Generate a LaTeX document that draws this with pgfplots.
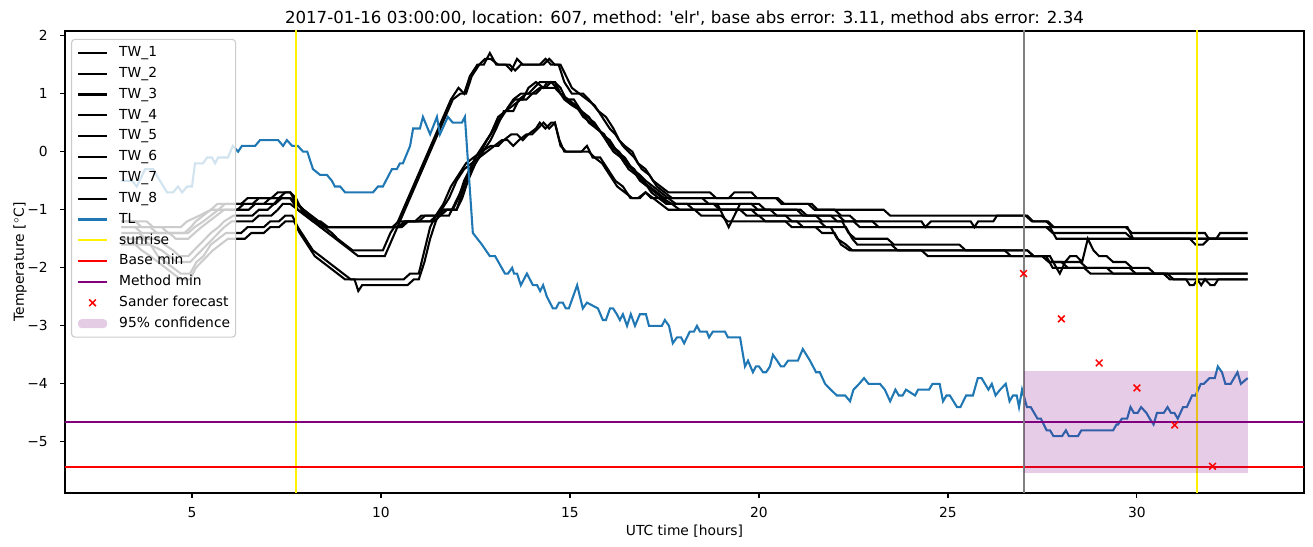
\documentclass[border=0pt]{standalone}
\usepackage{pgfplots}
\pgfplotsset{compat=1.18}
\usepackage{fontspec}
\setmainfont{DejaVu Sans}
\definecolor{tabblue}{HTML}{1F77B4}
\definecolor{mplpurple}{HTML}{800080}
\definecolor{mplgray}{HTML}{808080}
\definecolor{legframe}{HTML}{CCCCCC}
\pgfplotsset{areaimg/.style={legend image code/.code={\fill[##1] (0pt,-3.2pt) rectangle (21pt,3.2pt);}}}
\begin{document}
\begin{tikzpicture}
\begin{axis}[
  name=ax,
  scale only axis,
  width=12.39in, height=4.62in,
  xmin=1.64, xmax=34.42, ymin=-5.88, ymax=2.08,
  xtick={5,10,15,20,25,30}, xticklabels={5,10,15,20,25,30},
  ytick={-5,-4,-3,-2,-1,0,1,2}, yticklabels={−5,−4,−3,−2,−1,0,1,2},
  tick pos=left, tick align=outside, major tick length=3.5pt,
  every tick/.style={black, line width=0.8pt},
  axis line style={line width=0.8pt},
  tick label style={font=\fontsize{10}{12}\selectfont},
  xticklabel style={yshift=-3.5pt},
  yticklabel style={xshift=-5.5pt},
  label style={font=\fontsize{10}{12}\selectfont},
  title={2017-01-16 03:00:00, location: 607, method: \textquotesingle elr\textquotesingle, base abs error: 3.11, method abs error: 2.34},
  title style={at={(axis description cs:0.5,1)}, anchor=base, yshift=-0.8pt, font=\fontsize{12}{14}\selectfont},
  xlabel={UTC time [hours]},
  xlabel style={at={(axis description cs:0.5,-0.0866)}, anchor=base, yshift=-2pt},
  ylabel={Temperature [$^\circ$C]},
  ylabel style={at={(axis description cs:-0.0331,0.5)}, anchor=base},
  legend image code/.code={\draw[line width=1.5pt,mark repeat=2,mark phase=2,#1] plot coordinates {(0pt,0pt) (10.5pt,0pt) (21pt,0pt)};},
  legend cell align=left,
  legend style={at={(0.0048,0.983)}, anchor=north west, draw=legframe, line width=0.8pt,
    rounded corners=2.5pt, fill=white, fill opacity=0.8, draw opacity=1, text opacity=1,
    inner xsep=4pt, inner ysep=4pt, row sep=3.55pt, column sep=8pt,
    font=\fontsize{10}{12}\selectfont,
    nodes={inner sep=0pt, text height=8.5pt, text depth=3pt}},
  clip=true,
]
% TW_1
\addplot[black, line width=1.5pt] coordinates {(3.13,-1.2) (3.5,-1.2) (3.67,-1.3) (4.7,-1.3) (4.87,-1.2) (5.2,-1.1) (5.5,-1.0) (5.67,-0.9) (6.3,-0.9) (6.47,-0.8) (7.1,-0.8) (7.27,-0.7) (7.6,-0.7) (7.77,-0.9) (7.95,-1.0) (8.12,-1.1) (8.3,-1.2) (8.5,-1.3) (8.7,-1.4) (8.85,-1.5) (9.05,-1.6) (9.25,-1.7) (10.05,-1.7) (10.25,-1.4) (10.45,-1.2) (10.65,-0.9) (10.85,-0.6) (11.05,-0.3) (11.25,0.0) (11.45,0.3) (11.65,0.6) (11.85,0.9) (12.05,1.1) (12.2,1.0) (12.35,1.3) (12.55,1.5) (12.72,1.5) (12.88,1.7) (13.05,1.5) (13.3,1.5) (13.45,1.4) (13.6,1.6) (13.75,1.5) (14.3,1.5) (14.45,1.6) (14.6,1.5) (14.7,1.5) (14.85,1.2) (15.05,1.0) (15.35,1.0) (15.5,0.9) (15.75,0.7) (15.95,0.6) (16.15,0.4) (16.3,0.2) (16.45,0.1) (16.65,0.0) (16.8,-0.2) (17.0,-0.3) (17.2,-0.5) (17.4,-0.6) (17.6,-0.7) (18.7,-0.7) (18.87,-0.8) (20.45,-0.8) (20.6,-0.9) (21.4,-0.9) (21.55,-1.0) (23.3,-1.0) (23.47,-1.1) (27.05,-1.1) (27.22,-1.2) (27.6,-1.2) (27.77,-1.3) (29.7,-1.3) (29.87,-1.4) (31.8,-1.4) (31.9,-1.5) (32.1,-1.5) (32.2,-1.4) (32.93,-1.4)};
\addlegendentry{TW\_1}
% TW_2
\addplot[black, line width=1.5pt] coordinates {(3.13,-1.2) (3.8,-1.2) (3.97,-1.3) (4.2,-1.3) (4.37,-1.4) (4.9,-1.4) (5.07,-1.3) (5.3,-1.2) (5.5,-1.1) (5.7,-1.0) (5.87,-0.9) (6.6,-0.9) (6.77,-0.8) (7.3,-0.8) (7.47,-0.7) (7.6,-0.7) (7.75,-0.8) (7.9,-1.0) (8.05,-1.1) (8.25,-1.2) (8.4,-1.3) (8.6,-1.4) (8.8,-1.5) (9.0,-1.6) (9.2,-1.7) (9.4,-1.8) (10.1,-1.8) (10.3,-1.5) (10.5,-1.2) (10.7,-0.9) (10.9,-0.6) (11.1,-0.3) (11.3,0.0) (11.5,0.3) (11.7,0.6) (11.9,0.9) (12.1,1.0) (12.25,1.0) (12.4,1.3) (12.6,1.5) (12.75,1.6) (12.9,1.6) (13.1,1.5) (13.4,1.5) (13.55,1.4) (13.7,1.5) (14.2,1.5) (14.35,1.6) (14.5,1.5) (14.75,1.5) (14.9,1.3) (15.05,1.1) (15.25,1.0) (15.45,0.9) (15.65,0.8) (15.85,0.6) (16.05,0.4) (16.2,0.3) (16.4,0.1) (16.55,0.0) (16.7,-0.1) (16.9,-0.3) (17.1,-0.4) (17.3,-0.6) (17.5,-0.7) (17.7,-0.8) (19.2,-0.8) (19.35,-0.7) (19.8,-0.7) (19.95,-0.8) (20.5,-0.8) (20.67,-0.9) (21.3,-0.9) (21.47,-1.0) (22.0,-1.0) (22.17,-1.1) (22.4,-1.1) (22.57,-1.2) (24.3,-1.2) (24.4,-1.3) (24.55,-1.2) (25.6,-1.2) (25.7,-1.3) (25.8,-1.2) (26.2,-1.2) (26.3,-1.1) (27.1,-1.1) (27.25,-1.2) (27.65,-1.2) (27.8,-1.3) (29.75,-1.3) (29.9,-1.5) (32.93,-1.5)};
\addlegendentry{TW\_2}
% TW_3
\addplot[black, line width=1.5pt] coordinates {(3.13,-1.3) (3.5,-1.3) (3.67,-1.4) (4.8,-1.4) (4.97,-1.3) (5.1,-1.2) (5.3,-1.1) (5.5,-1.0) (6.2,-1.0) (6.37,-0.9) (6.9,-0.9) (7.07,-0.8) (7.6,-0.8) (7.75,-0.9) (7.95,-1.0) (8.15,-1.1) (8.35,-1.2) (8.55,-1.3) (10.45,-1.3) (10.62,-1.2) (11.3,-1.2) (11.47,-1.1) (11.6,-1.0) (11.9,-1.0) (12.05,-0.8) (12.2,-0.5) (12.35,-0.3) (12.5,-0.1) (12.7,0.1) (12.9,0.3) (13.1,0.6) (13.3,0.7) (13.5,0.9) (13.7,1.0) (13.9,1.0) (14.05,1.1) (14.2,1.2) (14.6,1.2) (14.75,1.0) (14.95,0.9) (15.15,0.8) (15.35,0.6) (15.55,0.5) (15.75,0.4) (15.95,0.2) (16.15,0.0) (16.35,-0.1) (16.55,-0.3) (16.75,-0.4) (16.95,-0.5) (17.15,-0.7) (17.35,-0.8) (17.55,-0.9) (18.8,-0.9) (18.97,-1.0) (21.1,-1.0) (21.27,-1.1) (22.1,-1.1) (22.27,-1.2) (23.0,-1.2) (23.17,-1.3) (27.6,-1.3) (27.77,-1.4) (29.7,-1.4) (29.87,-1.5) (32.93,-1.5)};
\addlegendentry{TW\_3}
% TW_4
\addplot[black, line width=1.5pt] coordinates {(3.13,-1.3) (3.9,-1.3) (4.07,-1.4) (4.4,-1.4) (4.57,-1.5) (4.9,-1.5) (5.07,-1.4) (5.25,-1.3) (5.45,-1.2) (5.65,-1.1) (5.85,-1.0) (6.5,-1.0) (6.67,-0.9) (7.2,-0.9) (7.37,-0.8) (7.6,-0.8) (7.8,-1.0) (8.0,-1.1) (8.2,-1.2) (8.4,-1.2) (8.6,-1.3) (10.3,-1.3) (10.47,-1.2) (10.9,-1.2) (11.07,-1.1) (11.5,-1.1) (11.67,-1.0) (12.0,-1.0) (12.15,-0.7) (12.3,-0.4) (12.5,-0.2) (12.7,0.0) (12.9,0.2) (13.05,0.4) (13.25,0.7) (13.5,0.7) (13.65,0.9) (13.85,1.0) (14.1,1.0) (14.25,1.1) (14.6,1.1) (14.75,1.0) (14.95,0.9) (15.1,0.9) (15.3,0.7) (15.5,0.6) (15.7,0.4) (15.9,0.3) (16.1,0.1) (16.3,0.0) (16.5,-0.2) (16.7,-0.3) (16.9,-0.5) (17.1,-0.6) (17.3,-0.7) (17.5,-0.8) (18.5,-0.8) (18.67,-0.9) (19.8,-0.9) (19.97,-1.0) (20.3,-1.0) (20.47,-1.1) (21.9,-1.1) (22.07,-1.2) (22.5,-1.2) (22.67,-1.3) (27.7,-1.3) (27.87,-1.5) (31.4,-1.5) (31.55,-1.6) (31.75,-1.6) (31.9,-1.5) (32.93,-1.5)};
\addlegendentry{TW\_4}
% TW_5
\addplot[black, line width=1.5pt] coordinates {(3.13,-1.4) (3.6,-1.4) (3.77,-1.5) (4.1,-1.5) (4.27,-1.6) (4.5,-1.7) (4.67,-1.8) (4.9,-1.8) (5.05,-1.7) (5.2,-1.6) (5.35,-1.5) (5.5,-1.4) (5.7,-1.3) (5.85,-1.2) (6.1,-1.1) (6.6,-1.1) (6.77,-1.0) (7.0,-1.0) (7.17,-0.9) (7.3,-0.8) (7.6,-0.8) (7.8,-0.9) (7.95,-1.0) (8.15,-1.1) (8.35,-1.2) (8.55,-1.3) (10.5,-1.3) (10.67,-1.2) (11.4,-1.2) (11.57,-1.1) (11.75,-1.0) (12.0,-1.0) (12.15,-0.8) (12.3,-0.5) (12.5,-0.2) (12.65,0.0) (12.8,0.2) (13.0,0.4) (13.2,0.6) (13.4,0.8) (13.55,0.9) (13.75,0.9) (13.9,1.1) (14.1,1.2) (14.3,1.1) (14.4,1.2) (14.6,1.2) (14.75,1.1) (14.9,0.9) (15.1,0.8) (15.3,0.7) (15.5,0.5) (15.7,0.4) (15.9,0.3) (16.05,0.1) (16.25,0.0) (16.45,-0.1) (16.65,-0.3) (16.85,-0.4) (17.0,-0.5) (17.2,-0.6) (17.4,-0.7) (17.6,-0.8) (17.8,-0.9) (18.9,-0.9) (19.05,-1.1) (19.2,-1.3) (19.35,-1.1) (19.5,-0.9) (20.0,-0.9) (20.17,-1.0) (21.0,-1.0) (21.17,-1.1) (21.5,-1.1) (21.67,-1.2) (22.2,-1.2) (22.37,-1.4) (22.55,-1.5) (23.4,-1.5) (23.57,-1.6) (25.3,-1.6) (25.47,-1.7) (27.1,-1.7) (27.27,-1.8) (27.7,-1.8) (27.87,-2.0) (27.96,-2.1) (28.1,-1.9) (28.23,-1.8) (28.4,-1.8) (28.55,-1.9) (28.7,-1.5) (28.85,-1.7) (29.0,-1.8) (29.2,-1.8) (29.37,-1.9) (29.7,-1.9) (29.87,-2.0) (30.3,-2.0) (30.47,-2.1) (32.93,-2.1)};
\addlegendentry{TW\_5}
% TW_6
\addplot[black, line width=1.5pt] coordinates {(3.13,-1.5) (3.7,-1.5) (3.87,-1.6) (4.2,-1.7) (4.4,-1.8) (4.6,-1.9) (4.95,-1.9) (5.1,-1.8) (5.25,-1.7) (5.4,-1.6) (5.55,-1.5) (5.7,-1.4) (5.85,-1.3) (6.05,-1.2) (6.6,-1.2) (6.77,-1.1) (7.1,-1.1) (7.27,-1.0) (7.4,-0.9) (7.6,-0.9) (7.8,-1.0) (8.0,-1.1) (8.2,-1.2) (8.4,-1.3) (10.55,-1.3) (10.72,-1.2) (11.0,-1.2) (11.17,-1.1) (11.8,-1.1) (11.95,-0.9) (12.1,-0.7) (12.3,-0.4) (12.5,-0.1) (12.7,0.1) (12.9,0.3) (13.05,0.5) (13.3,0.7) (13.5,0.8) (13.7,0.9) (13.85,0.9) (14.0,1.0) (14.2,1.1) (14.35,1.1) (14.5,1.2) (14.65,1.1) (14.85,0.9) (15.05,0.8) (15.3,0.7) (15.45,0.6) (15.65,0.5) (15.85,0.3) (16.05,0.2) (16.25,0.0) (16.45,-0.2) (16.65,-0.3) (16.85,-0.5) (17.05,-0.6) (17.25,-0.7) (17.45,-0.8) (17.7,-0.9) (17.9,-1.0) (19.8,-1.0) (19.97,-1.1) (20.7,-1.1) (20.87,-1.2) (21.6,-1.2) (21.77,-1.3) (22.3,-1.3) (22.47,-1.5) (22.6,-1.6) (23.5,-1.6) (23.67,-1.7) (27.1,-1.7) (27.27,-1.8) (27.5,-1.8) (27.67,-1.9) (28.5,-1.9) (28.67,-2.0) (29.8,-2.0) (29.97,-2.1) (32.93,-2.1)};
\addlegendentry{TW\_6}
% TW_7
\addplot[black, line width=1.5pt] coordinates {(3.13,-1.5) (3.4,-1.5) (3.57,-1.6) (3.9,-1.6) (4.1,-1.8) (4.3,-1.9) (4.5,-2.0) (4.7,-2.1) (4.95,-2.1) (5.12,-1.9) (5.3,-1.8) (5.5,-1.6) (5.7,-1.5) (5.9,-1.4) (6.3,-1.4) (6.47,-1.3) (6.9,-1.3) (7.07,-1.2) (7.3,-1.2) (7.47,-1.1) (7.65,-1.1) (7.8,-1.3) (8.0,-1.5) (8.2,-1.7) (8.4,-1.8) (8.6,-1.9) (8.8,-2.0) (9.0,-2.1) (9.2,-2.2) (10.6,-2.2) (10.77,-2.1) (11.0,-2.1) (11.15,-1.7) (11.3,-1.3) (11.45,-1.1) (11.65,-0.9) (11.85,-0.6) (12.05,-0.4) (12.25,-0.2) (12.45,-0.1) (12.65,0.0) (12.9,0.1) (13.1,0.1) (13.25,0.2) (13.45,0.3) (13.6,0.3) (13.75,0.2) (13.9,0.3) (14.1,0.4) (14.2,0.5) (14.35,0.4) (14.5,0.5) (14.6,0.5) (14.75,0.1) (14.9,0.0) (15.5,0.0) (15.65,-0.1) (15.85,-0.2) (16.05,-0.4) (16.25,-0.6) (16.45,-0.7) (16.65,-0.8) (16.85,-0.8) (17.0,-0.7) (17.15,-0.8) (17.4,-0.8) (17.6,-0.9) (18.1,-0.9) (18.27,-1.0) (19.5,-1.0) (19.67,-1.1) (20.0,-1.1) (20.17,-1.2) (21.0,-1.2) (21.17,-1.3) (21.9,-1.3) (22.07,-1.5) (22.3,-1.6) (22.47,-1.7) (26.5,-1.7) (26.67,-1.8) (27.6,-1.8) (27.77,-2.0) (28.6,-2.0) (28.77,-2.1) (30.7,-2.1) (30.87,-2.2) (32.93,-2.2)};
\addlegendentry{TW\_7}
% TW_8
\addplot[black, line width=1.5pt] coordinates {(3.13,-1.6) (3.5,-1.6) (3.67,-1.7) (3.9,-1.8) (4.1,-1.9) (4.3,-2.0) (4.5,-2.1) (4.7,-2.2) (4.95,-2.2) (5.1,-2.0) (5.25,-1.9) (5.4,-1.8) (5.55,-1.7) (5.75,-1.6) (5.95,-1.5) (6.4,-1.5) (6.57,-1.4) (6.9,-1.4) (7.07,-1.3) (7.3,-1.3) (7.47,-1.2) (7.7,-1.2) (7.85,-1.4) (8.05,-1.6) (8.25,-1.8) (8.45,-1.9) (8.65,-2.0) (8.85,-2.1) (9.05,-2.2) (9.3,-2.2) (9.4,-2.4) (9.5,-2.3) (10.7,-2.3) (10.87,-2.2) (11.0,-2.2) (11.15,-1.9) (11.3,-1.5) (11.45,-1.2) (11.6,-1.0) (11.8,-0.8) (12.0,-0.5) (12.2,-0.3) (12.4,-0.2) (12.6,-0.1) (12.8,0.0) (13.0,0.1) (13.2,0.2) (13.35,0.2) (13.5,0.1) (13.65,0.2) (13.85,0.3) (14.0,0.3) (14.15,0.4) (14.3,0.5) (14.45,0.4) (14.6,0.5) (14.72,0.2) (14.85,0.0) (15.3,0.0) (15.45,0.1) (15.6,-0.1) (15.8,-0.1) (16.0,-0.3) (16.2,-0.5) (16.4,-0.6) (16.6,-0.8) (16.8,-0.8) (17.0,-0.7) (17.2,-0.8) (17.4,-0.9) (17.6,-1.0) (18.3,-1.0) (18.47,-1.1) (19.0,-1.1) (19.17,-1.2) (20.7,-1.2) (20.87,-1.3) (21.5,-1.3) (21.67,-1.4) (22.0,-1.4) (22.17,-1.6) (22.4,-1.7) (24.3,-1.7) (24.47,-1.8) (27.5,-1.8) (27.67,-1.9) (28.0,-1.9) (28.17,-2.0) (29.2,-2.0) (29.37,-2.1) (30.8,-2.1) (30.97,-2.2) (31.3,-2.2) (31.4,-2.3) (31.5,-2.3) (31.6,-2.2) (31.7,-2.3) (31.8,-2.2) (31.95,-2.3) (32.05,-2.3) (32.15,-2.2) (32.93,-2.2)};
\addlegendentry{TW\_8}
% TL
\addplot[tabblue, line width=1.5pt] coordinates {(3.13,-0.5) (3.41,-0.5) (3.54,-0.6) (3.76,-0.3) (3.97,-0.3) (4.15,-0.5) (4.34,-0.7) (4.50,-0.7) (4.63,-0.6) (4.74,-0.7) (4.87,-0.6) (5.00,-0.6) (5.08,-0.2) (5.29,-0.2) (5.40,-0.1) (5.53,-0.1) (5.61,-0.2) (5.69,-0.1) (5.95,-0.1) (6.08,0.1) (6.22,0.0) (6.32,0.1) (6.67,0.1) (6.80,0.2) (7.28,0.2) (7.41,0.1) (7.51,0.2) (7.65,0.1) (7.80,0.1) (7.94,0.0) (8.05,0.0) (8.20,-0.3) (8.39,-0.4) (8.57,-0.4) (8.70,-0.5) (8.78,-0.6) (8.92,-0.6) (9.05,-0.7) (9.79,-0.7) (9.92,-0.6) (10.05,-0.6) (10.29,-0.3) (10.42,-0.3) (10.50,-0.2) (10.58,-0.2) (10.77,0.1) (10.85,0.4) (11.03,0.4) (11.11,0.6) (11.30,0.3) (11.48,0.6) (11.56,0.3) (11.77,0.6) (11.90,0.5) (12.14,0.5) (12.22,0.6) (12.43,-1.4) (12.67,-1.6) (12.88,-1.8) (13.02,-1.8) (13.28,-2.1) (13.36,-2.1) (13.47,-2.0) (13.52,-2.1) (13.60,-2.1) (13.70,-2.3) (13.86,-2.1) (14.02,-2.3) (14.13,-2.3) (14.21,-2.4) (14.29,-2.3) (14.39,-2.5) (14.55,-2.7) (14.63,-2.7) (14.71,-2.6) (14.81,-2.6) (14.89,-2.7) (14.97,-2.7) (15.08,-2.5) (15.19,-2.3) (15.34,-2.7) (15.45,-2.6) (15.74,-2.7) (15.87,-2.9) (15.95,-2.9) (16.06,-2.7) (16.14,-2.7) (16.24,-2.8) (16.32,-2.9) (16.40,-2.8) (16.51,-3.0) (16.61,-2.8) (16.72,-3.0) (16.85,-2.8) (17.01,-2.8) (17.09,-3.0) (17.43,-3.0) (17.51,-2.9) (17.62,-3.0) (17.72,-3.3) (17.83,-3.2) (17.94,-3.2) (18.02,-3.3) (18.17,-3.1) (18.28,-3.1) (18.36,-3.0) (18.44,-3.1) (18.62,-3.1) (18.68,-3.2) (18.78,-3.1) (19.10,-3.1) (19.18,-3.2) (19.50,-3.2) (19.63,-3.7) (19.71,-3.6) (19.84,-3.8) (19.92,-3.7) (20.00,-3.7) (20.11,-3.8) (20.19,-3.8) (20.29,-3.7) (20.37,-3.5) (20.48,-3.6) (20.58,-3.7) (20.66,-3.7) (20.77,-3.6) (21.03,-3.6) (21.16,-3.4) (21.35,-3.6) (21.51,-3.8) (21.61,-3.8) (21.75,-4.0) (21.90,-4.1) (22.06,-4.2) (22.28,-4.2) (22.41,-4.3) (22.50,-4.1) (22.65,-4.0) (22.78,-3.9) (22.90,-4.0) (23.20,-4.0) (23.33,-4.1) (23.47,-4.3) (23.61,-4.1) (23.70,-4.2) (23.80,-4.2) (23.89,-4.1) (24.13,-4.2) (24.21,-4.1) (24.50,-4.1) (24.59,-4.0) (24.78,-4.0) (24.87,-4.3) (24.96,-4.2) (25.05,-4.2) (25.24,-4.4) (25.33,-4.4) (25.48,-4.2) (25.66,-4.2) (25.79,-3.9) (25.89,-3.9) (26.07,-4.1) (26.16,-4.0) (26.26,-4.2) (26.38,-4.1) (26.53,-4.0) (26.63,-4.3) (26.72,-4.2) (26.82,-4.2) (26.88,-4.4) (26.96,-4.1) (27.09,-4.4) (27.19,-4.4) (27.37,-4.6) (27.46,-4.6) (27.61,-4.8) (27.70,-4.8) (27.79,-4.9) (28.02,-4.9) (28.12,-4.8) (28.20,-4.9) (28.44,-4.9) (28.53,-4.8) (29.37,-4.8) (29.46,-4.7) (29.50,-4.7) (29.60,-4.6) (29.74,-4.6) (29.83,-4.4) (29.92,-4.5) (30.02,-4.5) (30.11,-4.4) (30.25,-4.5) (30.34,-4.6) (30.44,-4.7) (30.53,-4.5) (30.71,-4.5) (30.81,-4.4) (30.90,-4.5) (30.99,-4.5) (31.08,-4.6) (31.22,-4.4) (31.32,-4.4) (31.46,-4.2) (31.55,-4.2) (31.69,-4.0) (31.77,-4.0) (31.92,-3.9) (32.06,-3.9) (32.14,-3.7) (32.25,-3.8) (32.34,-4.0) (32.48,-4.0) (32.66,-3.8) (32.75,-4.0) (32.93,-3.9)};
\addlegendentry{TL}
% sunrise
\addplot[yellow, line width=1.5pt] coordinates {(7.75,-10) (7.75,10)};
\addlegendentry{sunrise}
\addplot[yellow, line width=1.5pt, forget plot] coordinates {(31.6,-10) (31.6,10)};
% base min
\addplot[red, line width=1.5pt] coordinates {(0,-5.425) (40,-5.425)};
\addlegendentry{Base min}
% method min
\addplot[mplpurple, line width=1.5pt] coordinates {(0,-4.65) (40,-4.65)};
\addlegendentry{Method min}
% current time
\addplot[mplgray, line width=1.5pt, forget plot] coordinates {(27,-10) (27,10)};
% Sander forecast
\addplot[red, only marks, mark=x, mark size=3.4pt, mark options={line width=1.1pt}] coordinates {(27,-2.1) (28,-2.88) (29,-3.64) (30,-4.07) (31,-4.71) (32,-5.42)};
\addlegendentry{Sander forecast}
% 95% confidence
\addplot[fill=mplpurple, fill opacity=0.2, draw=none, areaimg]
  coordinates {(27,-5.53) (32.93,-5.53) (32.93,-3.78) (27,-3.78)} -- cycle;
\addlegendentry{95\% confidence}
\end{axis}
\pgfresetboundingbox
\path ([shift={(-0.65in,-0.54in)}]ax.south west) rectangle ([shift={(0.09in,0.31in)}]ax.north east);
\end{tikzpicture}
\end{document}
